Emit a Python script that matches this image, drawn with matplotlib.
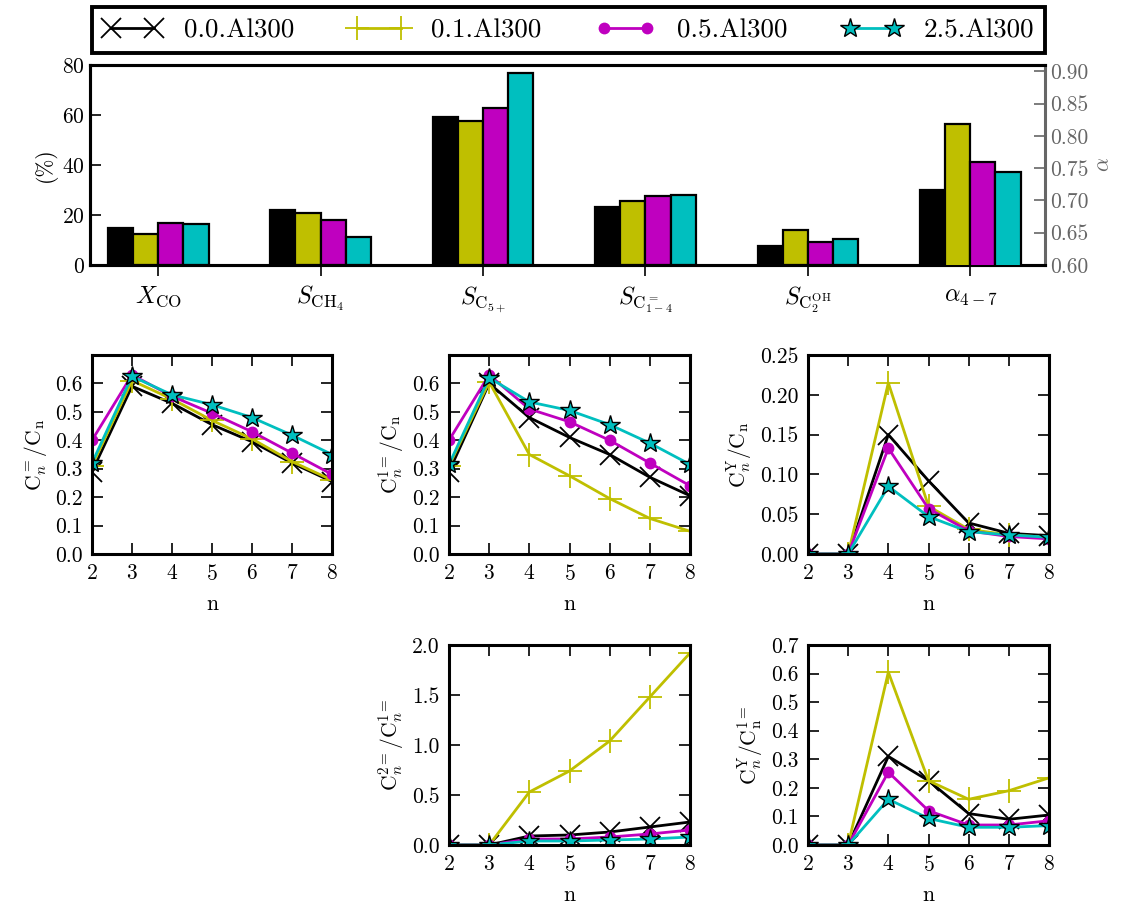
import numpy as np
import matplotlib
matplotlib.use("Agg")
import matplotlib.pyplot as plt
from matplotlib.lines import Line2D

plt.rcParams['font.family'] = ['cmr10', 'DejaVu Serif']
plt.rcParams['mathtext.fontset'] = 'cm'
plt.rcParams['axes.formatter.use_mathtext'] = True
plt.rcParams['axes.unicode_minus'] = False

# ---- data ----
samples = ['0.0.Al300', '0.1.Al300', '0.5.Al300', '2.5.Al300']
colors = ['k', 'y', 'm', 'c']
markers = ['x', '+', 'o', '*']

bar_labels = [r'$X_{\mathrm{CO}}$', r'$S_{\mathrm{CH}_4}$', r'$S_{\mathrm{C}_{5+}}$',
              r'$S_{\mathrm{C}^{=}_{1-4}}$', r'$S_{\mathrm{C}_2^{\mathrm{OH}}}$', r'$\alpha_{4-7}$']

# conversion / selectivities (%) per sample: X_CO, S_CH4, S_C5+, S_C=1-4, S_C2OH
pct_00 = [14.9, 21.9, 59.1, 23.3, 7.7]
pct_01 = [12.5, 20.9, 57.6, 25.5, 14.0]
pct_05 = [16.8, 18.0, 62.8, 27.5, 9.2]
pct_25 = [16.5, 11.2, 76.7, 27.9, 10.4]
pct_all = [pct_00, pct_01, pct_05, pct_25]

# chain growth probability alpha_4-7 per sample
alpha_47 = [0.716, 0.818, 0.759, 0.744]

n = [2, 3, 4, 5, 6, 7, 8]

olef_00 = [0.29, 0.59, 0.53, 0.455, 0.395, 0.32, 0.255]
olef_01 = [0.31, 0.61, 0.545, 0.47, 0.405, 0.325, 0.26]
olef_05 = [0.40, 0.63, 0.555, 0.495, 0.43, 0.355, 0.28]
olef_25 = [0.32, 0.625, 0.56, 0.525, 0.48, 0.418, 0.35]

alpha_ol_00 = [0.29, 0.60, 0.48, 0.41, 0.35, 0.27, 0.205]
alpha_ol_01 = [0.31, 0.605, 0.35, 0.275, 0.195, 0.125, 0.08]
alpha_ol_05 = [0.40, 0.63, 0.51, 0.465, 0.40, 0.32, 0.24]
alpha_ol_25 = [0.315, 0.62, 0.535, 0.505, 0.455, 0.39, 0.315]

branch_00 = [0.0, 0.0, 0.15, 0.092, 0.039, 0.026, 0.023]
branch_01 = [0.0, 0.0, 0.215, 0.06, 0.031, 0.024, 0.021]
branch_05 = [0.0, 0.0, 0.133, 0.057, 0.029, 0.022, 0.019]
branch_25 = [0.0, 0.0, 0.085, 0.047, 0.028, 0.024, 0.021]

inner_00 = [0.0, 0.0, 0.09, 0.10, 0.13, 0.18, 0.23]
inner_01 = [0.0, 0.0, 0.53, 0.74, 1.04, 1.48, 1.92]
inner_05 = [0.0, 0.0, 0.06, 0.06, 0.08, 0.11, 0.15]
inner_25 = [0.0, 0.0, 0.04, 0.04, 0.05, 0.06, 0.08]

br_ol_00 = [0.0, 0.0, 0.31, 0.225, 0.11, 0.09, 0.105]
br_ol_01 = [0.0, 0.0, 0.605, 0.225, 0.16, 0.19, 0.235]
br_ol_05 = [0.0, 0.0, 0.255, 0.12, 0.07, 0.07, 0.085]
br_ol_25 = [0.0, 0.0, 0.16, 0.093, 0.062, 0.062, 0.068]

# ---- figure ----
W, H = 1131, 905
fig = plt.figure(figsize=(W / 100, H / 100), dpi=100)


def px_axes(x0, y0, x1, y1):
    return fig.add_axes([x0 / W, 1 - y1 / H, (x1 - x0) / W, (y1 - y0) / H])


FS = 15.5
SPINE = 2.2


def marker_style(i):
    if markers[i] == 'x':
        return dict(marker='x', ms=15, mew=1.3, mec='k')
    if markers[i] == '+':
        return dict(marker='+', ms=17, mew=1.3, mec=colors[i])
    if markers[i] == 'o':
        return dict(marker='o', ms=8.5, mew=0, mec=colors[i])
    return dict(marker='*', ms=15, mew=1.0, mec='k')


# ---- bar chart ----
ax = px_axes(90, 65, 1045, 265)
ax2 = ax.twinx()
w = 0.155
xg = np.arange(len(pct_00))
for i in range(4):
    ax.bar(xg + (i - 1.5) * w, pct_all[i], w, color=colors[i], edgecolor='k', linewidth=1.6, zorder=3)
    ax2.bar(5 + (i - 1.5) * w, alpha_47[i], w, color=colors[i], edgecolor='k', linewidth=1.6, zorder=3)
ax.set_xlim(-0.42, 5.46)
ax.set_ylim(0, 80)
ax.set_yticks([0, 20, 40, 60, 80])
ax2.set_ylim(0.6, 0.91)
ax2.set_yticks([0.60, 0.65, 0.70, 0.75, 0.80, 0.85, 0.90])
ax2.set_yticklabels(['%.2f' % v for v in ax2.get_yticks()])
ax.set_xticks(np.arange(6))
ax.set_xticklabels(bar_labels, fontsize=FS + 2)
ax.tick_params(axis='x', direction='out', length=8, width=1.2, top=False, pad=6)
ax.tick_params(axis='y', direction='in', length=8, width=1.2, right=False, labelsize=FS)
ax2.tick_params(axis='y', direction='in', length=8, width=1.2, colors='0.4', labelsize=FS)
ax.set_ylabel('(%)', fontsize=FS)
ax2.set_ylabel(r'$\alpha$', fontsize=FS, color='0.4')
for s in ['left', 'top', 'bottom']:
    ax.spines[s].set_linewidth(SPINE)
    ax2.spines[s].set_linewidth(SPINE)
ax2.spines['right'].set_linewidth(SPINE)
ax2.spines['right'].set_color('0.4')
ax.spines['right'].set_visible(False)

# ---- line panels ----
panels = [
    ((92, 355, 332, 554), [olef_00, olef_01, olef_05, olef_25], (0, 0.7),
     [0.0, 0.1, 0.2, 0.3, 0.4, 0.5, 0.6], '%.1f',
     r'$\mathrm{C}^{=}_{n}/\mathrm{C}_{\mathrm{n}}$'),
    ((449, 355, 690, 554), [alpha_ol_00, alpha_ol_01, alpha_ol_05, alpha_ol_25], (0, 0.7),
     [0.0, 0.1, 0.2, 0.3, 0.4, 0.5, 0.6], '%.1f',
     r'$\mathrm{C}^{1=}_{n}/\mathrm{C}_{\mathrm{n}}$'),
    ((808, 355, 1049, 554), [branch_00, branch_01, branch_05, branch_25], (0, 0.25),
     [0.0, 0.05, 0.10, 0.15, 0.20, 0.25], '%.2f',
     r'$\mathrm{C}^{\mathrm{Y}}_{n}/\mathrm{C}_{\mathrm{n}}$'),
    ((449, 645, 690, 845), [inner_00, inner_01, inner_05, inner_25], (0, 2.0),
     [0.0, 0.5, 1.0, 1.5, 2.0], '%.1f',
     r'$\mathrm{C}^{2=}_{n}/\mathrm{C}^{1=}_{n}$'),
    ((808, 645, 1049, 845), [br_ol_00, br_ol_01, br_ol_05, br_ol_25], (0, 0.7),
     [0.0, 0.1, 0.2, 0.3, 0.4, 0.5, 0.6, 0.7], '%.1f',
     r'$\mathrm{C}^{\mathrm{Y}}_{n}/\mathrm{C}^{1=}_{\mathrm{n}}$'),
]

for box, series, ylim, yt, fmt, ylab in panels:
    a = px_axes(*box)
    for i, ys in enumerate(series):
        a.plot(n, ys, color=colors[i], lw=2, mfc=colors[i], zorder=3 + i,
               **marker_style(i))
    a.set_xlim(2, 8)
    a.set_ylim(*ylim)
    a.set_xticks(n)
    a.set_yticks(yt)
    a.set_yticklabels([fmt % v for v in yt])
    a.tick_params(direction='in', top=True, right=True, length=8, width=1.2, labelsize=FS, pad=7)
    a.set_xlabel('n', fontsize=FS, labelpad=8)
    a.set_ylabel(ylab, fontsize=FS)
    for s in a.spines.values():
        s.set_linewidth(SPINE)
        s.set_zorder(10)

# ---- legend ----
handles = [Line2D([], [], color=colors[i], lw=2, mfc=colors[i], **marker_style(i)) for i in range(4)]
leg = fig.legend(handles, samples, loc='lower left', ncol=4, mode='expand', numpoints=2,
                 bbox_to_anchor=(92 / W, 1 - 53 / H, (1045 - 92) / W, 41 / H),
                 fontsize=FS + 4, fancybox=False, frameon=True, framealpha=1, borderaxespad=0,
                 handlelength=2.2, handletextpad=0.8)
leg.get_frame().set_edgecolor('k')
leg.get_frame().set_linewidth(SPINE + 0.6)

fig.savefig('out.png', dpi=100)
